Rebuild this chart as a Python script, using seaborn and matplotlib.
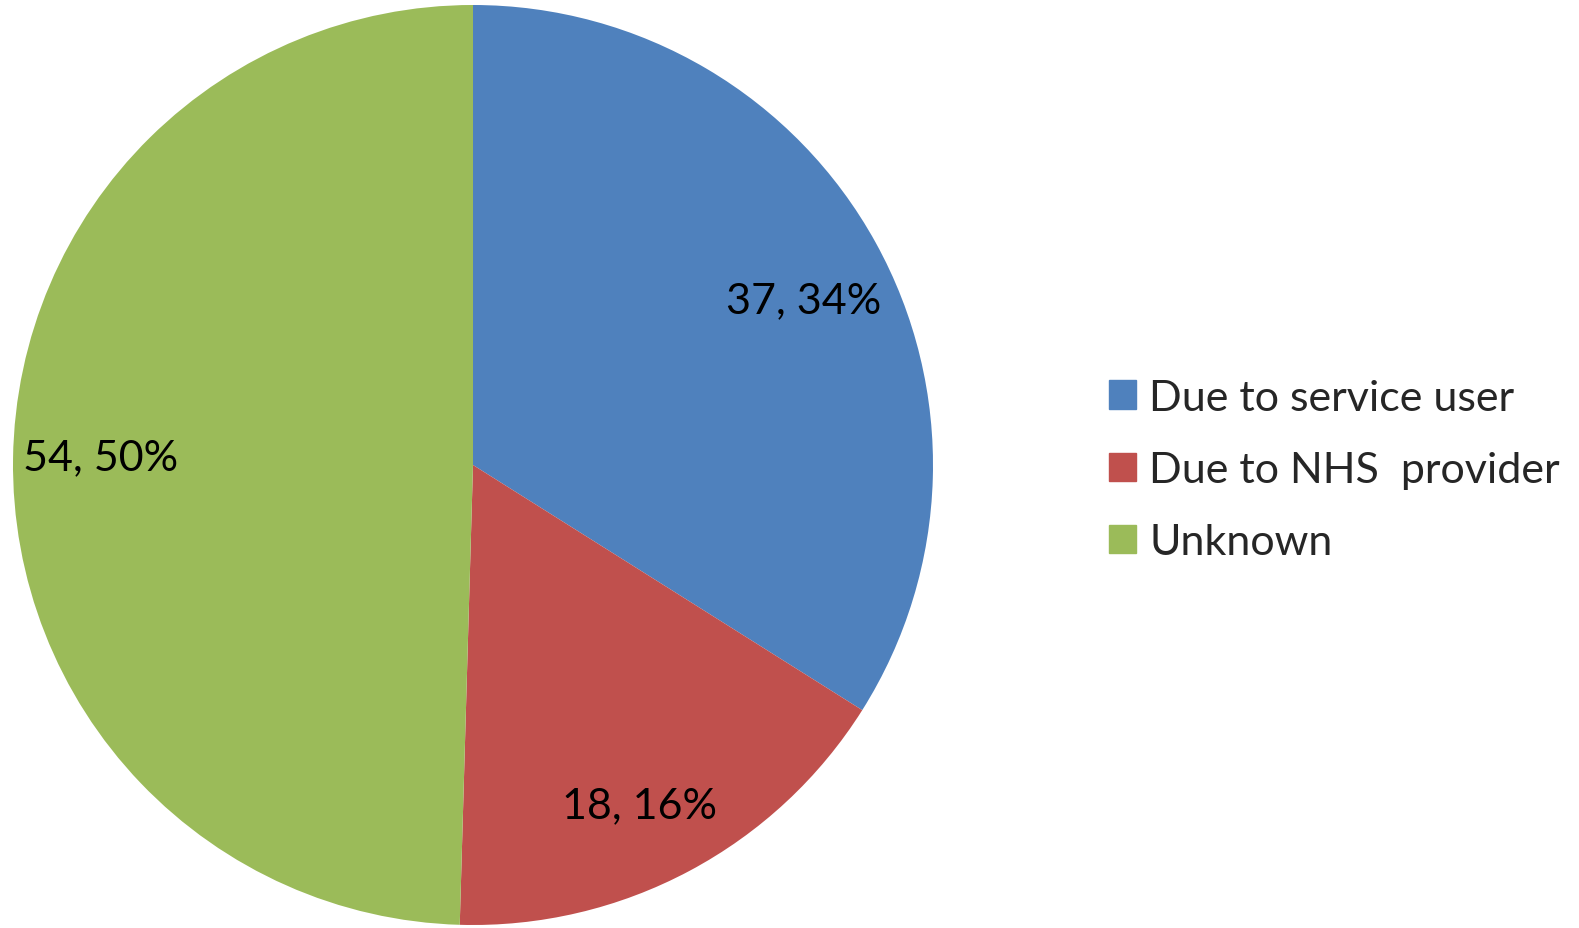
import matplotlib
matplotlib.use("Agg")
import matplotlib.pyplot as plt
import matplotlib.patches as mpatches
import numpy as np
import seaborn as sns

categories = ["Due to service user", "Due to NHS  provider", "Unknown"]
counts = [37, 18, 54]
percents = [34, 16, 50]
colors = ["#4F81BD", "#C0504D", "#9BBB59"]

sns.set_theme(style="white")
plt.rcParams["font.family"] = ["Lato", "DejaVu Sans"]
palette = sns.color_palette(colors)

W, H = 1579, 929
fig = plt.figure(figsize=(W / 100, H / 100), dpi=100)
fig.patch.set_facecolor("white")

cx, cy, r = 473, 466, 460
ax = fig.add_axes([(cx - r) / W, (H - cy - r) / H, 2 * r / W, 2 * r / H])

labels_txt = [f"{c}, {p}%" for c, p in zip(counts, percents)]
wedges, _ = ax.pie(counts, colors=palette, startangle=90, counterclock=False,
                   radius=1, frame=False, wedgeprops=dict(linewidth=0))
for w, t in zip(wedges, labels_txt):
    ang = np.deg2rad((w.theta1 + w.theta2) / 2 - 1.5)
    d = 0.81
    ax.text(d * np.cos(ang), d * np.sin(ang) - 0.015, t, ha="center", va="center",
            fontsize=31, color="black")
ax.set_xlim(-1, 1)
ax.set_ylim(-1, 1)
ax.axis("off")

handles = [mpatches.Patch(color=c, label=l) for c, l in zip(palette, categories)]
fig.legend(handles=handles, loc="center left",
           bbox_to_anchor=(1109 / W, 1 - 471 / H), frameon=False,
           fontsize=31, handlelength=0.63, handleheight=0.63,
           handletextpad=0.3, labelspacing=0.8, borderpad=0, borderaxespad=0)

fig.savefig("out.png", dpi=100, facecolor="white")
